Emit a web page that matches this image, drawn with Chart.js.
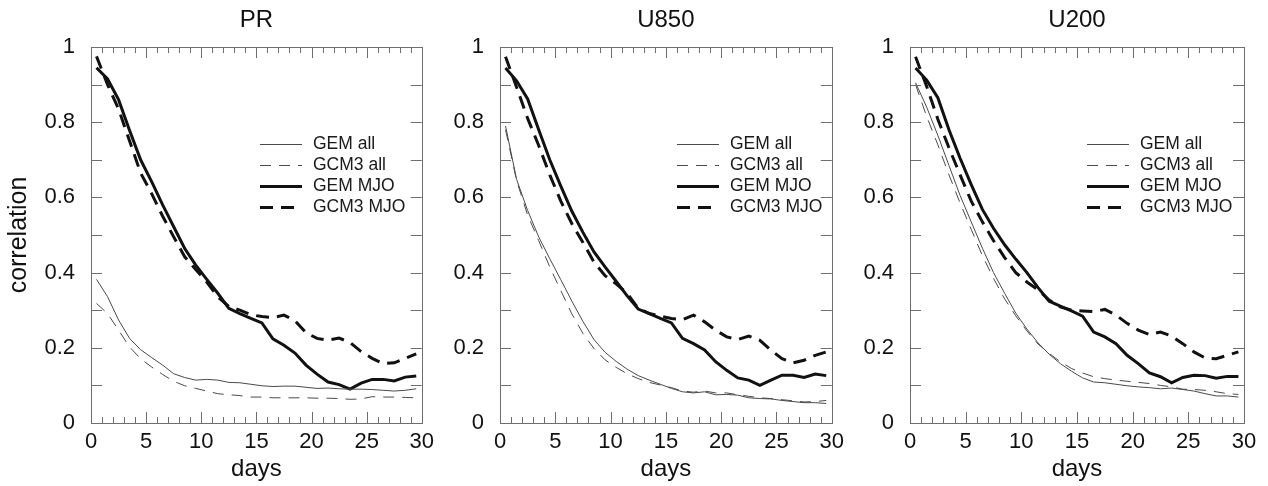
<!DOCTYPE html>
<html>
<head>
<meta charset="utf-8">
<script src="https://cdn.jsdelivr.net/npm/chart.js@4.4.1/dist/chart.umd.min.js"></script>
<style>
  html, body { margin: 0; padding: 0; background: #fff; overflow: hidden; }
  canvas { position: absolute; top: 0; }
</style>
</head>
<body>
<canvas id="prChart" width="440" height="486" style="left:0px"></canvas>
<canvas id="u850Chart" width="410" height="486" style="left:440px"></canvas>
<canvas id="u200Chart" width="418" height="486" style="left:850px"></canvas>
<script>
// lead time (days) for every point
const days = [0.5, 1.5, 2.5, 3.5, 4.5, 5.5, 6.5, 7.5, 8.5, 9.5,
  10.5, 11.5, 12.5, 13.5, 14.5, 15.5, 16.5, 17.5, 18.5, 19.5,
  20.5, 21.5, 22.5, 23.5, 24.5, 25.5, 26.5, 27.5, 28.5, 29.5];

const seriesNames = ['GEM all', 'GCM3 all', 'GEM MJO', 'GCM3 MJO'];
const xTickValues = [0, 5, 10, 15, 20, 25, 30];
const yTickValues = [0, 0.2, 0.4, 0.6, 0.8, 1];

// PR
const prGemAll = [0.382, 0.336, 0.274, 0.225, 0.195, 0.174, 0.154, 0.131, 0.121, 0.114, 0.116, 0.114, 0.108, 0.107, 0.103, 0.099, 0.097, 0.098, 0.098, 0.095, 0.092, 0.093, 0.091, 0.090, 0.090, 0.089, 0.087, 0.085, 0.087, 0.091];
const prGcm3All = [0.318, 0.291, 0.247, 0.202, 0.171, 0.149, 0.129, 0.111, 0.099, 0.092, 0.085, 0.078, 0.075, 0.073, 0.069, 0.069, 0.067, 0.067, 0.067, 0.067, 0.066, 0.066, 0.065, 0.063, 0.064, 0.070, 0.069, 0.069, 0.068, 0.067];
const prGemMjo = [0.945, 0.915, 0.860, 0.778, 0.700, 0.642, 0.580, 0.522, 0.464, 0.420, 0.382, 0.345, 0.305, 0.291, 0.278, 0.266, 0.224, 0.207, 0.186, 0.154, 0.130, 0.109, 0.102, 0.090, 0.106, 0.116, 0.116, 0.112, 0.122, 0.125];
const prGcm3Mjo = [0.975, 0.900, 0.835, 0.750, 0.665, 0.610, 0.550, 0.495, 0.442, 0.408, 0.375, 0.335, 0.310, 0.300, 0.288, 0.283, 0.280, 0.287, 0.272, 0.240, 0.225, 0.220, 0.226, 0.214, 0.190, 0.172, 0.158, 0.160, 0.172, 0.184];

// U850
const u850GemAll = [0.790, 0.648, 0.565, 0.495, 0.437, 0.381, 0.324, 0.270, 0.222, 0.188, 0.164, 0.143, 0.126, 0.114, 0.103, 0.092, 0.083, 0.080, 0.083, 0.075, 0.076, 0.074, 0.067, 0.065, 0.064, 0.060, 0.057, 0.054, 0.054, 0.052];
const u850Gcm3All = [0.780, 0.645, 0.553, 0.485, 0.415, 0.352, 0.290, 0.238, 0.198, 0.168, 0.148, 0.131, 0.118, 0.108, 0.101, 0.094, 0.085, 0.082, 0.085, 0.080, 0.080, 0.075, 0.071, 0.067, 0.065, 0.062, 0.059, 0.056, 0.057, 0.060];
const u850GemMjo = [0.944, 0.910, 0.862, 0.780, 0.700, 0.630, 0.563, 0.507, 0.455, 0.415, 0.377, 0.338, 0.303, 0.291, 0.278, 0.266, 0.225, 0.211, 0.194, 0.163, 0.140, 0.120, 0.114, 0.100, 0.114, 0.127, 0.127, 0.121, 0.130, 0.126];
const u850Gcm3Mjo = [0.974, 0.893, 0.810, 0.738, 0.660, 0.590, 0.530, 0.480, 0.428, 0.392, 0.370, 0.345, 0.305, 0.291, 0.284, 0.278, 0.275, 0.287, 0.269, 0.247, 0.229, 0.222, 0.231, 0.220, 0.194, 0.171, 0.160, 0.167, 0.180, 0.189];

// U200
const u200GemAll = [0.905, 0.840, 0.765, 0.685, 0.605, 0.535, 0.465, 0.400, 0.345, 0.292, 0.250, 0.213, 0.183, 0.158, 0.138, 0.120, 0.109, 0.107, 0.103, 0.099, 0.096, 0.094, 0.091, 0.093, 0.089, 0.085, 0.078, 0.072, 0.072, 0.069];
const u200Gcm3All = [0.900, 0.815, 0.740, 0.660, 0.585, 0.515, 0.445, 0.385, 0.330, 0.285, 0.245, 0.210, 0.185, 0.163, 0.145, 0.133, 0.123, 0.118, 0.114, 0.111, 0.108, 0.105, 0.100, 0.096, 0.090, 0.089, 0.087, 0.083, 0.078, 0.076];
const u200GemMjo = [0.944, 0.912, 0.865, 0.780, 0.704, 0.634, 0.568, 0.518, 0.474, 0.436, 0.400, 0.360, 0.324, 0.311, 0.298, 0.284, 0.242, 0.229, 0.211, 0.180, 0.158, 0.133, 0.123, 0.107, 0.121, 0.127, 0.126, 0.119, 0.124, 0.124];
const u200Gcm3Mjo = [0.974, 0.895, 0.808, 0.732, 0.660, 0.590, 0.535, 0.485, 0.440, 0.400, 0.375, 0.354, 0.327, 0.309, 0.300, 0.298, 0.296, 0.302, 0.287, 0.265, 0.247, 0.235, 0.242, 0.231, 0.211, 0.189, 0.173, 0.171, 0.180, 0.189];

const FONT = '"Liberation Sans", Arial, Helvetica, sans-serif';
Chart.defaults.font.family = FONT;
Chart.defaults.color = '#111';
const frameColor = '#6e6e6e';

// box + inward tick marks on all four sides
const tickFrame = {
  id: 'tickFrame',
  afterDatasetsDraw(chart) {
    const {ctx, chartArea: a, scales: {x, y}} = chart;
    ctx.save();
    ctx.strokeStyle = frameColor;
    ctx.lineWidth = 1;
    ctx.beginPath();
    for (let d = 0; d <= 30; d++) {
      const px = Math.round(x.getPixelForValue(d)) + 0.5;
      const len = d % 5 === 0 ? 11 : 6;
      ctx.moveTo(px, a.bottom); ctx.lineTo(px, a.bottom - len);
      ctx.moveTo(px, a.top); ctx.lineTo(px, a.top + len);
    }
    for (let k = 0; k <= 10; k++) {
      const py = Math.round(y.getPixelForValue(k / 10)) + 0.5;
      ctx.moveTo(a.left, py); ctx.lineTo(a.left + 11, py);
      ctx.moveTo(a.right, py); ctx.lineTo(a.right - 11, py);
    }
    ctx.stroke();
    ctx.strokeRect(Math.round(a.left) + 0.5, Math.round(a.top) + 0.5,
      Math.round(a.width), Math.round(a.height));
    ctx.restore();
  }
};

// legend with line samples, placed inside the plot
const lineLegend = {
  id: 'lineLegend',
  afterDraw(chart, args, opts) {
    const {ctx, chartArea: a} = chart;
    ctx.save();
    ctx.font = '17.5px ' + FONT;
    ctx.textBaseline = 'middle';
    chart.data.datasets.forEach((ds, i) => {
      const yy = Math.round(a.top + opts.top + i * opts.rowGap) + 0.5;
      const x0 = a.left + opts.left;
      ctx.strokeStyle = ds.borderColor;
      ctx.lineWidth = ds.borderWidth;
      ctx.setLineDash(ds.borderDash || []);
      ctx.beginPath();
      ctx.moveTo(x0, yy);
      ctx.lineTo(x0 + 42, yy);
      ctx.stroke();
      ctx.fillStyle = '#1a1a1a';
      ctx.fillText(ds.label, x0 + 53, yy);
    });
    ctx.restore();
  }
};

function makeChart(id, title, series, yWidth, rightPad, legendLeft, showYTitle) {
  const styles = [
    {color: '#4a4a4a', width: 1, dash: []},
    {color: '#4a4a4a', width: 1, dash: [11, 8]},
    {color: '#111', width: 3, dash: []},
    {color: '#111', width: 3, dash: [13, 8]}
  ];
  const datasets = series.map((vals, i) => ({
    label: seriesNames[i],
    data: days.map((d, j) => ({x: d, y: vals[j]})),
    xAxisID: 'x',
    yAxisID: 'y',
    borderColor: styles[i].color,
    borderWidth: styles[i].width,
    borderDash: styles[i].dash,
    borderCapStyle: 'butt',
    pointRadius: 0,
    tension: 0,
    fill: false
  }));

  return new Chart(document.getElementById(id), {
    type: 'line',
    data: {datasets: datasets},
    options: {
      responsive: false,
      animation: false,
      layout: {padding: {left: 0, right: rightPad, top: 0, bottom: 0}},
      plugins: {
        legend: {display: false},
        tooltip: {enabled: false},
        lineLegend: {left: legendLeft, top: 96.5, rowGap: 21}
      },
      scales: {
        x: {
          type: 'linear', position: 'bottom', min: 0, max: 30,
          afterBuildTicks: s => { s.ticks = xTickValues.map(v => ({value: v})); },
          afterFit: s => { s.height = 63; },
          grid: {display: false, drawTicks: false},
          border: {display: false},
          ticks: {padding: 6, font: {size: 22}, maxRotation: 0, autoSkip: false},
          title: {display: true, text: 'days', font: {size: 24}, padding: {top: 0, bottom: 2}}
        },
        x2: {
          type: 'linear', position: 'top', display: true, min: 0, max: 30,
          afterFit: s => { s.height = 47; },
          grid: {display: false, drawTicks: false},
          border: {display: false},
          ticks: {display: false},
          title: {display: true, text: title, font: {size: 24}, padding: {top: 6, bottom: 0}}
        },
        y: {
          type: 'linear', position: 'left', min: 0, max: 1,
          afterBuildTicks: s => { s.ticks = yTickValues.map(v => ({value: v})); },
          afterFit: s => { s.width = yWidth; },
          grid: {display: false, drawTicks: false},
          border: {display: false},
          ticks: {padding: 16, font: {size: 22}, callback: v => String(+v.toFixed(1))},
          title: {display: showYTitle, text: 'correlation', font: {size: 25}, padding: {top: 4, bottom: 0}}
        }
      }
    },
    plugins: [tickFrame, lineLegend]
  });
}

makeChart('prChart', 'PR', [prGemAll, prGcm3All, prGemMjo, prGcm3Mjo], 91, 16, 169, true);
makeChart('u850Chart', 'U850', [u850GemAll, u850Gcm3All, u850GemMjo, u850Gcm3Mjo], 60, 16, 177, false);
makeChart('u200Chart', 'U200', [u200GemAll, u200Gcm3All, u200GemMjo, u200Gcm3Mjo], 60, 24, 177, false);
</script>
</body>
</html>
